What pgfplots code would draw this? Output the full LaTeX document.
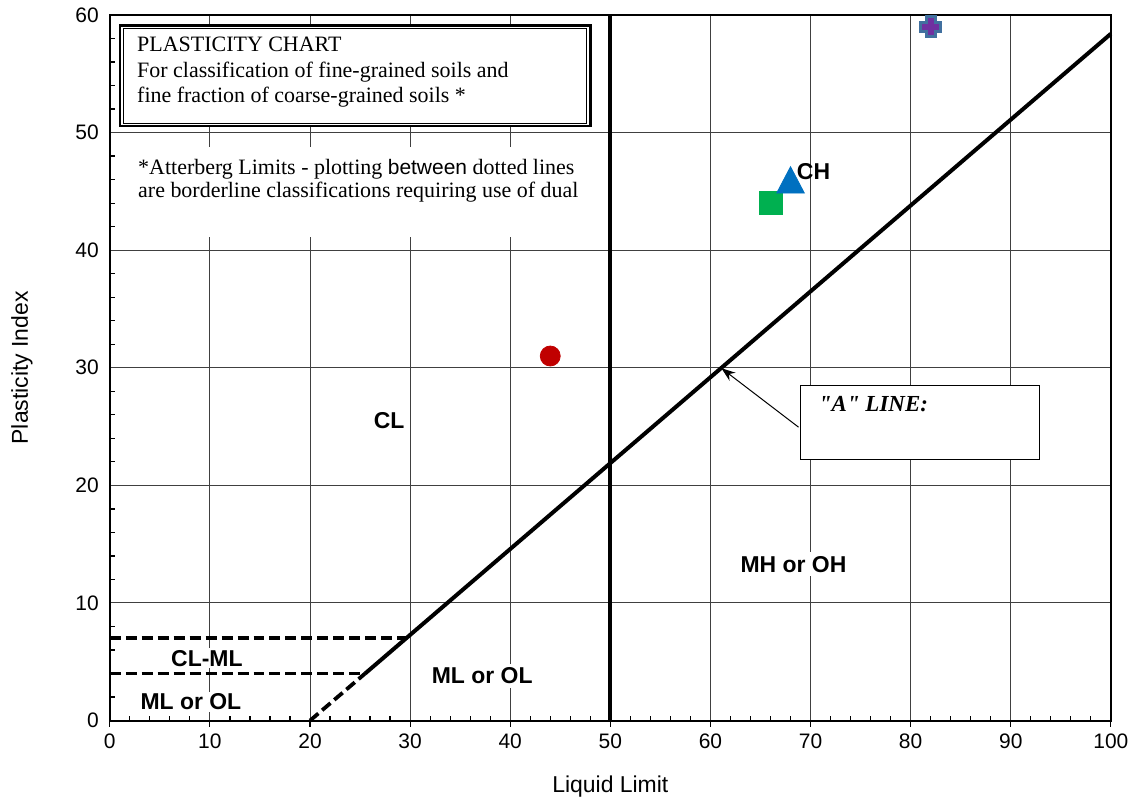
\documentclass[border=0pt]{standalone}
\usepackage{pgfplots}
\pgfplotsset{compat=1.18}
\usepackage{fontspec}
\setmainfont{Liberation Sans}
\newfontfamily\timesfont{Liberation Serif}
\usetikzlibrary{arrows.meta}
\definecolor{cred}{HTML}{C00000}
\definecolor{cgreen}{HTML}{00B050}
\definecolor{cblue}{HTML}{0070C0}
\definecolor{cpurple}{HTML}{7030A0}
\definecolor{cborder}{HTML}{41709F}
\pgfdeclareplotmark{fatplus}{%
  \pgfpathmoveto{\pgfqpoint{-0.45\pgfplotmarksize}{\pgfplotmarksize}}%
  \pgfpathlineto{\pgfqpoint{0.45\pgfplotmarksize}{\pgfplotmarksize}}%
  \pgfpathlineto{\pgfqpoint{0.45\pgfplotmarksize}{0.45\pgfplotmarksize}}%
  \pgfpathlineto{\pgfqpoint{\pgfplotmarksize}{0.45\pgfplotmarksize}}%
  \pgfpathlineto{\pgfqpoint{\pgfplotmarksize}{-0.45\pgfplotmarksize}}%
  \pgfpathlineto{\pgfqpoint{0.45\pgfplotmarksize}{-0.45\pgfplotmarksize}}%
  \pgfpathlineto{\pgfqpoint{0.45\pgfplotmarksize}{-\pgfplotmarksize}}%
  \pgfpathlineto{\pgfqpoint{-0.45\pgfplotmarksize}{-\pgfplotmarksize}}%
  \pgfpathlineto{\pgfqpoint{-0.45\pgfplotmarksize}{-0.45\pgfplotmarksize}}%
  \pgfpathlineto{\pgfqpoint{-\pgfplotmarksize}{-0.45\pgfplotmarksize}}%
  \pgfpathlineto{\pgfqpoint{-\pgfplotmarksize}{0.45\pgfplotmarksize}}%
  \pgfpathlineto{\pgfqpoint{-0.45\pgfplotmarksize}{0.45\pgfplotmarksize}}%
  \pgfpathclose
  \pgfusepathqfillstroke
}
\begin{document}
\begin{tikzpicture}
\begin{axis}[
  scale only axis,
  width=501.5pt, height=353.5pt,
  xmin=0, xmax=100, ymin=0, ymax=60,
  xtick={0,10,...,100}, ytick={0,10,...,60},
  minor x tick num=4, minor y tick num=4,
  xtick pos=left, ytick pos=left,
  tick align=inside,
  major tick length=0pt, minor tick length=2.5pt,
  extra x ticks={0,10,...,100}, extra x tick labels={},
  extra x tick style={grid=none, tick align=outside, major tick length=3pt},
  grid=major,
  major grid style={black!75, line width=0.5pt},
  axis line style={black, line width=1pt},
  tick style={black, line width=0.6pt},
  /pgf/number format/assume math mode=true,
  tick label style={font=\fontsize{10.5}{12}\selectfont},
  xticklabel style={yshift=-3pt},
  yticklabel style={xshift=-2pt},
  label style={font=\fontsize{11.5}{13}\selectfont},
  xlabel={Liquid Limit}, ylabel={Plasticity Index},
  xlabel style={at={(axis description cs:0.5,0)}, anchor=center, yshift=-33pt},
  ylabel style={at={(axis description cs:0,0.5)}, anchor=center, yshift=44pt},
  clip=false,
]
% vertical line LL=50
\addplot[black, line width=2pt] coordinates {(50,0) (50,60)};
% A line
\addplot[black, line width=2pt] coordinates {(25.5,4) (100,58.4)};
\addplot[black, line width=1.9pt, dash pattern=on 5.5pt off 2.5pt] coordinates {(20,0) (25.5,4)};
\addplot[black, line width=1.9pt, dash pattern=on 5.5pt off 2.5pt] coordinates {(0,7) (29.6,7)};
\addplot[black, line width=1.9pt, dash pattern=on 5.5pt off 2.5pt] coordinates {(0,4) (25.5,4)};
% data points
\addplot[only marks, mark=*, mark size=5pt, color=cred] coordinates {(44,31)};
\addplot[only marks, mark=square*, mark size=5.75pt, color=cgreen] coordinates {(66,44)};
\addplot[only marks, mark=triangle*, mark size=8pt, mark options={yscale=1.1}, color=cblue] coordinates {(68,45.6)};
\addplot[only marks, mark=fatplus, mark size=5pt, mark options={fill=cpurple, draw=cborder, line width=1.5pt}] coordinates {(82,59)};
% title box
\fill[white] (1.0,50.5) rectangle (48.06,59.15);
\draw[black, line width=1.1pt] (1.05,50.55) rectangle (48.01,59.1);
\draw[black, line width=0.5pt] (1.4,50.8) rectangle (47.66,58.85);
\node[anchor=base west, inner sep=0pt, font=\timesfont\fontsize{11}{13}\selectfont] at (2.7,56.86) {PLASTICITY CHART};
\node[anchor=base west, inner sep=0pt, font=\timesfont\fontsize{11}{13}\selectfont] at (2.7,54.65) {For classification of fine-grained soils and};
\node[anchor=base west, inner sep=0pt, font=\timesfont\fontsize{11}{13}\selectfont] at (2.7,52.53) {fine fraction of coarse-grained soils *};
% Atterberg note
\fill[white] (2.0,41.16) rectangle (47.9,48.8);
\node[anchor=base west, inner sep=0pt, font=\timesfont\fontsize{11}{13}\selectfont] at (2.8,46.42) {*Atterberg Limits - plotting {\normalfont\fontsize{10.5}{13}\selectfont between} dotted lines};
\node[anchor=base west, inner sep=0pt, font=\timesfont\fontsize{11}{13}\selectfont] at (2.8,44.47) {are borderline classifications requiring use of dual};
% zone labels
\node[fill=white, inner sep=2pt, font=\bfseries\fontsize{11.5}{13}\selectfont] at (27.9,25.5) {CL};
\node[inner sep=0pt, font=\bfseries\fontsize{11.5}{13}\selectfont] at (70.3,46.7) {CH};
\node[fill=white, inner sep=2pt, font=\bfseries\fontsize{11.5}{13}\selectfont] at (68.3,13.3) {MH or OH};
\node[fill=white, inner sep=2pt, font=\bfseries\fontsize{11.5}{13}\selectfont] at (37.2,3.8) {ML or OL};
\node[fill=white, inner sep=1pt, font=\bfseries\fontsize{11.5}{13}\selectfont] at (9.7,5.3) {CL-ML};
\node[fill=white, inner sep=1pt, font=\bfseries\fontsize{11.5}{13}\selectfont] at (8.1,1.6) {ML or OL};
% A line box
\draw[black, line width=0.5pt, fill=white] (69.0,22.24) rectangle (92.9,28.5);
\node[anchor=base west, inner sep=0pt, font=\timesfont\bfseries\itshape\fontsize{11.5}{13}\selectfont] at (70.8,26.3) {"A" LINE:};
\draw[black, line width=0.5pt, -{Stealth[length=7pt,width=5pt]}] (68.8,24.95) -- (61.1,29.96);
\end{axis}
\path ([shift={(-55pt,-40.5pt)}]current axis.south west) rectangle ([shift={(11pt,7.5pt)}]current axis.north east);
\end{tikzpicture}
\end{document}
